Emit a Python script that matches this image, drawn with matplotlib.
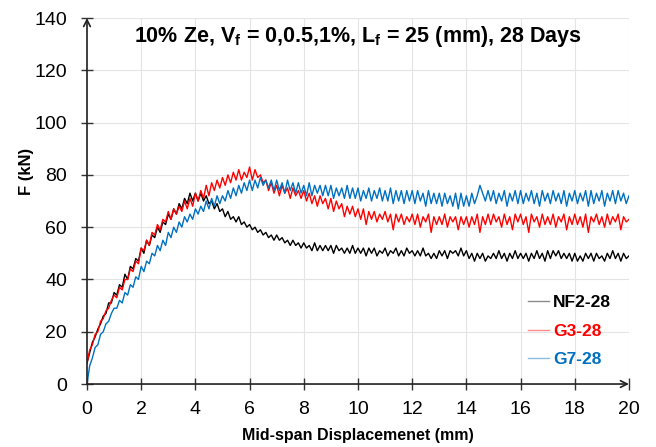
import numpy as np
import matplotlib
matplotlib.use("Agg")
import matplotlib.pyplot as plt

plt.rcParams['font.family'] = ['Liberation Sans', 'DejaVu Sans']
plt.rcParams['mathtext.fontset'] = 'custom'
plt.rcParams['mathtext.rm'] = 'Liberation Sans'
plt.rcParams['mathtext.bf'] = 'Liberation Sans:bold'

# load readings (kN), one sample every 0.1 mm of mid-span displacement
step = 0.1
nf2_28 = [
    8, 12, 16, 18, 21, 23, 26, 27, 31, 31,
    35, 34, 38, 37, 42, 40, 45, 44, 48, 47,
    52, 50, 55, 53, 57, 56, 60, 58, 62, 61,
    65, 63, 67, 65, 69, 67, 71, 69, 73, 70,
    73, 70, 73, 70, 72, 69, 70, 67, 69, 66,
    67, 64, 66, 63, 64, 62, 64, 61, 62, 60,
    61, 59, 60, 58, 59, 57, 58, 56, 57, 55,
    57, 55, 56, 54, 55, 53, 55, 53, 54, 52,
    54, 52, 53, 51, 54, 51, 53, 51, 53, 51,
    53, 50, 53, 51, 52, 50, 52, 50, 53, 50,
    52, 50, 52, 49, 52, 50, 52, 49, 51, 50,
    52, 49, 51, 50, 52, 49, 51, 49, 52, 50,
    51, 49, 51, 49, 52, 49, 50, 48, 50, 48,
    51, 49, 51, 48, 51, 50, 51, 49, 52, 49,
    51, 48, 50, 47, 50, 48, 50, 47, 49, 48,
    50, 48, 51, 48, 50, 47, 50, 48, 51, 48,
    50, 48, 50, 47, 50, 48, 51, 48, 50, 47,
    51, 48, 51, 49, 51, 48, 50, 48, 50, 47,
    50, 47, 49, 47, 50, 48, 50, 47, 50, 48,
    49, 47, 50, 48, 51, 48, 50, 47, 50, 48,
    49,
]
g3_28 = [
    8, 13, 15, 19, 20, 24, 25, 28, 29, 32,
    34, 33, 37, 36, 40, 40, 44, 43, 47, 46,
    52, 51, 55, 53, 58, 57, 61, 59, 63, 62,
    66, 63, 67, 65, 68, 66, 70, 67, 71, 68,
    73, 70, 74, 71, 76, 72, 77, 74, 78, 75,
    79, 76, 80, 77, 81, 78, 82, 78, 81, 79,
    83, 78, 82, 79, 80, 77, 78, 74, 77, 73,
    76, 72, 76, 73, 75, 71, 75, 72, 74, 71,
    74, 70, 73, 69, 72, 68, 72, 69, 71, 67,
    71, 66, 70, 67, 69, 64, 68, 65, 68, 64,
    67, 63, 67, 61, 66, 63, 66, 62, 65, 63,
    66, 62, 65, 59, 65, 62, 65, 61, 64, 62,
    65, 61, 65, 60, 64, 62, 65, 58, 64, 61,
    64, 61, 65, 60, 64, 62, 64, 59, 64, 61,
    64, 60, 64, 61, 65, 58, 64, 61, 65, 61,
    65, 62, 64, 60, 65, 61, 64, 59, 65, 62,
    65, 61, 64, 58, 65, 62, 64, 60, 65, 61,
    64, 61, 65, 60, 64, 62, 65, 59, 64, 61,
    65, 61, 64, 60, 65, 58, 64, 62, 65, 61,
    64, 60, 65, 61, 64, 62, 65, 59, 64, 62,
    63,
]
g7_28 = [
    0, 7, 10, 14, 15, 19, 20, 23, 24, 27,
    29, 29, 32, 31, 35, 34, 38, 37, 41, 40,
    45, 43, 47, 46, 50, 49, 53, 51, 55, 53,
    58, 56, 60, 58, 62, 60, 64, 62, 65, 63,
    67, 65, 68, 66, 70, 67, 71, 68, 72, 69,
    72, 70, 74, 71, 75, 72, 76, 73, 77, 74,
    78, 74, 78, 75, 79, 76, 78, 75, 78, 74,
    78, 74, 77, 73, 78, 74, 77, 73, 77, 73,
    76, 72, 77, 72, 76, 73, 76, 72, 76, 72,
    76, 71, 75, 72, 75, 71, 76, 71, 75, 71,
    75, 70, 74, 71, 75, 70, 74, 71, 75, 70,
    74, 70, 75, 69, 74, 70, 74, 69, 74, 70,
    74, 69, 74, 70, 73, 68, 74, 69, 73, 69,
    73, 68, 73, 69, 72, 68, 73, 67, 73, 68,
    72, 68, 73, 69, 72, 76, 73, 70, 74, 70,
    74, 69, 73, 70, 74, 68, 73, 70, 74, 69,
    74, 69, 73, 70, 74, 69, 73, 68, 74, 70,
    73, 69, 74, 70, 73, 69, 74, 68, 73, 70,
    74, 69, 73, 70, 74, 68, 74, 69, 73, 70,
    74, 68, 73, 70, 74, 69, 74, 70, 73, 69,
    72,
]

series = [
    ("NF2-28", nf2_28, "black"),
    ("G3-28", g3_28, "#FF0000"),
    ("G7-28", g7_28, "#0070C0"),
]

x_ticks = np.arange(0, 21, 2)
y_ticks = np.arange(0, 141, 20)

fig = plt.figure(figsize=(6.56, 4.47), dpi=100)
ax = fig.add_axes([0.1326, 0.1409, 0.8262, 0.8188])

for label, f, color in series:
    d = np.arange(len(f)) * step
    ax.plot(d, f, color=color, lw=1.0, label=label)

ax.set_xlim(0, 20)
ax.set_ylim(0, 140)
ax.set_xticks(x_ticks)
ax.set_yticks(y_ticks)
ax.grid(True, color="#e4e4e4", lw=0.8)
ax.set_axisbelow(True)
for s in ax.spines.values():
    s.set_visible(False)
ax.tick_params(direction="inout", length=8.5, width=1, color="#333333",
               labelsize=14)
ax.tick_params(axis="y", pad=10)
ax.tick_params(axis="x", pad=8)

# axes drawn as arrows
for tip in [(1, 0), (0, 1)]:
    ax.annotate("", xy=tip, xytext=(0, 0), xycoords="axes fraction",
                arrowprops=dict(arrowstyle="->", lw=1.2, color="#222222",
                                mutation_scale=12, shrinkA=0, shrinkB=0))

ax.set_xlabel("Mid-span Displacemenet (mm)", fontsize=11.5, fontweight="bold", labelpad=7)
ax.set_ylabel("F (kN)", fontsize=12, fontweight="bold")
ax.yaxis.set_label_coords(-0.098, 0.58)

ax.text(0.5, 0.985,
        r"10% Ze, V$_\mathbf{f}$ = 0,0.5,1%, L$_\mathbf{f}$ = 25 (mm), 28 Days",
        transform=ax.transAxes, ha="center", va="top",
        fontsize=15.5, fontweight="bold")

leg = ax.legend(loc="upper left", bbox_to_anchor=(0.785, 0.285), frameon=False,
                handlelength=1.2, handletextpad=0.25, labelspacing=0.75,
                prop={"size": 12.5, "weight": "bold"}, labelcolor="linecolor")
for h in leg.get_lines():
    h.set_alpha(0.45)

fig.savefig("out.png", dpi=100)
